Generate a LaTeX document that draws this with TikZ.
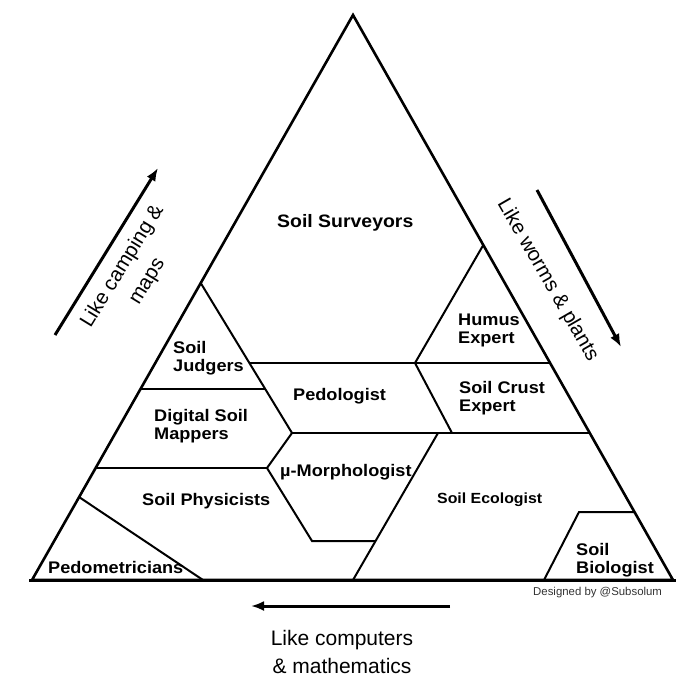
\documentclass[tikz,border=0pt]{standalone}
\usepackage{fontspec}
\setmainfont{Liberation Sans}
\newfontfamily\lblfont[FakeStretch=1.08]{Liberation Sans}
\usetikzlibrary{arrows.meta}
\begin{document}
\begin{tikzpicture}[x=1pt,y=-1pt,
  edge/.style={line width=2.6pt, line join=miter},
  inner/.style={line width=2pt},
  lbl/.style={anchor=base west, inner sep=0pt, font=\lblfont\bfseries\fontsize{16.8}{18}\selectfont, align=left},
  arr/.style={line width=3pt, -{Latex[length=13pt,width=10pt]}},
  side/.style={inner sep=0pt, font=\fontsize{20.5}{29}\selectfont, align=center}]
\useasboundingbox (0,0) rectangle (700,700);
% outer triangle
\coordinate (A) at (353,15);
\coordinate (BL) at (32,580);
\coordinate (BR) at (673,580);
\coordinate (BL0) at (29,580);
\coordinate (BR0) at (676,580);
\draw[edge] (BL) -- (A) -- (BR) -- cycle;
\draw[line width=3pt] (BL0) -- (BR0);
% inner points
\coordinate (J1) at (200.7,283);
\coordinate (P1) at (292,433);
\coordinate (P2) at (267,468);
\coordinate (P3) at (312,541);
\coordinate (P4) at (375.5,541);
\coordinate (E1) at (438,433);
\coordinate (E2) at (353,580);
\coordinate (H1) at (483.3,245);
\coordinate (H2) at (415,363);
\coordinate (H3) at (452,433);
\coordinate (B1) at (544,580);
\coordinate (B2) at (579,512);
\coordinate (B3) at (634.5,512);
\coordinate (D1) at (79,497);
\coordinate (D2) at (203,580);
\coordinate (L363) at (249.4,363);
\coordinate (R363) at (550.1,363);
\coordinate (L389) at (140.5,389);
\coordinate (R389) at (265.2,389);
\coordinate (R433) at (589.7,433);
\coordinate (L468) at (95.6,468);
\draw[inner] (J1) -- (P1) -- (P2) -- (P3) -- (P4);
\draw[inner] (E1) -- (E2);
\draw[inner] (H1) -- (H2) -- (H3);
\draw[inner] (B1) -- (B2) -- (B3);
\draw[inner] (D1) -- (D2);
\draw[inner] (L363) -- (R363);
\draw[inner] (L389) -- (R389);
\draw[inner] (P1) -- (R433);
\draw[inner] (L468) -- (P2);
% labels (multi-line: anchor is the baseline of the last line)
\node[lbl, font=\lblfont\bfseries\fontsize{18}{20}\selectfont] (surv) at (277,228) {Soil Surveyors};
\node[lbl] (judg) at (173,371) {Soil\\Judgers};
\node[lbl] (dsm) at (154,439.5) {Digital Soil\\Mappers};
\node[lbl] (phys) at (142,505) {Soil Physicists};
\node[lbl] (pedom) at (48,573) {Pedometricians};
\node[lbl] (pedol) at (293,400) {Pedologist};
\node[lbl] (micro) at (280,476) {µ-Morphologist};
\node[lbl, font=\lblfont\bfseries\fontsize{14.7}{17}\selectfont] (eco) at (437,503) {Soil Ecologist};
\node[lbl] (humus) at (458,343) {Humus\\Expert};
\node[lbl] (crust) at (459,411.5) {Soil Crust\\Expert};
\node[lbl] (bio) at (576,573) {Soil\\Biologist};
\node[anchor=base west, inner sep=0pt, font=\fontsize{11.4}{13}\selectfont, text=black!80] (credit) at (533,595) {Designed by @Subsolum};
% side texts
\node[anchor=base, inner sep=0pt, align=center, font=\fontsize{21}{28}\selectfont] (comp) at (342,673) {Like computers\\\& mathematics};
\node[side, rotate=58.5] (camp) at (135,274) {Like camping \&\\maps};
\node[side, anchor=base, rotate=-60] (worms) at (543,283) {Like worms \& plants};
% arrows
\coordinate (la1) at (55,335);
\coordinate (la2) at (158,168);
\coordinate (ra1) at (537,190);
\coordinate (ra2) at (621,347);
\coordinate (ba1) at (450,606);
\coordinate (ba2) at (251,606);
\draw[arr] (la1) -- (la2);
\draw[arr] (ra1) -- (ra2);
\draw[arr] (ba1) -- (ba2);
\end{tikzpicture}
\end{document}
